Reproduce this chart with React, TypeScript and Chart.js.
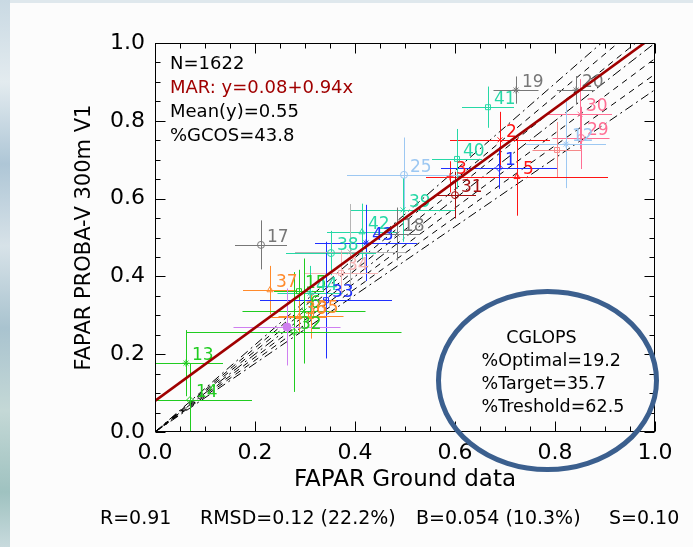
import React, { useEffect, useRef } from 'react';
import { Chart, registerables } from 'chart.js';

Chart.register(...registerables);

const FONT = '"DejaVu Sans", "Liberation Sans", sans-serif';

// ---- data ----
const siteLabels = ['19', '20', '41', '30', '29', '12', '', '2', '5', '3', '1', '40', '31', '25', '39', '18', '42', '43', '38', '34', '37', '15', '44', '33', '6', '36', '35', '32', '', '', '13', '14', '17'];
const groundFapar = [0.722, 0.842, 0.666, 0.85, 0.852, 0.822, 0.804, 0.69, 0.724, 0.59, 0.688, 0.604, 0.6, 0.498, 0.496, 0.484, 0.414, 0.422, 0.352, 0.372, 0.23, 0.288, 0.31, 0.342, 0.298, 0.288, 0.312, 0.278, 0.264, 0.39, 0.062, 0.07, 0.212];
const probaFapar = [0.879, 0.879, 0.835, 0.817, 0.756, 0.74, 0.725, 0.751, 0.656, 0.656, 0.679, 0.702, 0.609, 0.661, 0.571, 0.509, 0.514, 0.486, 0.46, 0.409, 0.365, 0.362, 0.357, 0.339, 0.311, 0.296, 0.298, 0.257, 0.27, 0.463, 0.177, 0.082, 0.481];
const groundErr = [0.045, 0.038, 0.052, 0.064, 0.057, 0.08, 0.049, 0.1, 0.182, 0.04, 0.116, 0.05, 0.042, 0.114, 0.104, 0.045, 0.07, 0.102, 0.09, 0.074, 0.054, 0.05, 0.065, 0.132, 0.123, 0.055, 0.065, 0.215, 0.107, 0.11, 0.074, 0.124, 0.052];
const probaErr = [0.035, 0.036, 0.053, 0.09, 0.08, 0.113, 0.072, 0.072, 0.1, 0.04, 0.054, 0.077, 0.06, 0.096, 0.082, 0.068, 0.073, 0.098, 0.057, 0.058, 0.062, 0.055, 0.07, 0.15, 0.135, 0.041, 0.058, 0.154, 0.099, 0.123, 0.085, 0.095, 0.063];

const marIntercept = 0.08;
const marSlope = 0.94;
const dashedLevels = [0.04, 0.08];
const dashDotLevels = [0.12];
const axisTicks = [0, 0.2, 0.4, 0.6, 0.8, 1.0];

const infoLines = ['N=1622', `MAR: y=${marIntercept.toFixed(2)}+${marSlope.toFixed(2)}x`, 'Mean(y)=0.55', '%GCOS=43.8'];
const cglopsLines = ['CGLOPS', '%Optimal=19.2', '%Target=35.7', '%Treshold=62.5'];
const statsParts = ['R=0.91', 'RMSD=0.12 (22.2%)', 'B=0.054 (10.3%)', 'S=0.10'];

// ---- styles ----
const C = {
  gray: '#777777', teal: '#26d8a6', pink: '#ff6f94', lblue: '#9dc8f2', salmon: '#f58a8a', red: '#ff1414',
  blue: '#2030ff', dred: '#a31010', lpink: '#f5b4b4', orange: '#ff8a2b', green: '#20cc20', violet: '#cf7ff0', lgray: '#b5b5b5',
};
const siteColors = [C.gray, C.gray, C.teal, C.pink, C.pink, C.lblue, C.salmon, C.red, C.red, C.red, C.blue, C.teal, C.dred, C.lblue, C.teal, C.gray, C.teal, C.blue, C.teal, C.lpink, C.orange, C.green, C.teal, C.blue, C.green, C.orange, C.orange, C.green, C.violet, C.lgray, C.green, C.green, C.gray];
const siteMarkers = ['star', 'star', 'rect', 'crossRot', 'circle', 'star', 'rect', 'crossRot', 'triangle', 'cross', 'rectRot', 'rect', 'circle', 'circle', 'crossRot', 'crossRot', 'triangle', 'star', 'circle', 'rect', 'triangle', 'rect', 'star', 'rect', 'crossRot', 'triangle', 'rect', 'rectRot', 'circle', 'crossRot', 'star', 'rectRot', 'circle'];
const infoColors = ['#000000', '#a00000', '#000000', '#000000'];

const POINT_DATASET = 1;

const overlayPlugin = {
  id: 'faparOverlay',
  beforeDraw(chart: any) {
    const { ctx, width, height } = chart;
    ctx.save();
    ctx.fillStyle = '#fcfcfc';
    ctx.fillRect(0, 0, width, height);
    const g = ctx.createLinearGradient(0, 0, 0, height);
    g.addColorStop(0, '#c9d9e3');
    g.addColorStop(0.15, '#e3ebef');
    g.addColorStop(0.3, '#aec6d6');
    g.addColorStop(0.45, '#d7e2e8');
    g.addColorStop(0.6, '#a9c3cf');
    g.addColorStop(0.75, '#c4d8d6');
    g.addColorStop(0.9, '#9fc2c0');
    g.addColorStop(1, '#c8dadd');
    ctx.fillStyle = g;
    ctx.fillRect(0, 0, 10, height);
    ctx.fillStyle = '#dfe8ed';
    ctx.fillRect(10, 0, width - 10, 3);
    ctx.restore();
  },
  beforeDatasetDraw(chart: any, args: any) {
    if (args.index !== POINT_DATASET) return;
    const { ctx, chartArea, scales } = chart;
    const xs = scales.x, ys = scales.y;
    ctx.save();
    ctx.beginPath();
    ctx.rect(chartArea.left, chartArea.top, chartArea.right - chartArea.left, chartArea.bottom - chartArea.top);
    ctx.clip();
    ctx.lineWidth = 1;
    groundFapar.forEach((gx, i) => {
      const gy = probaFapar[i];
      const px = Math.round(xs.getPixelForValue(gx)) + 0.5;
      const py = Math.round(ys.getPixelForValue(gy)) + 0.5;
      ctx.strokeStyle = siteColors[i];
      ctx.beginPath();
      ctx.moveTo(xs.getPixelForValue(gx - groundErr[i]), py);
      ctx.lineTo(xs.getPixelForValue(gx + groundErr[i]), py);
      ctx.moveTo(px, ys.getPixelForValue(gy - probaErr[i]));
      ctx.lineTo(px, ys.getPixelForValue(gy + probaErr[i]));
      ctx.stroke();
    });
    ctx.restore();
  },
  afterDatasetDraw(chart: any, args: any) {
    if (args.index !== POINT_DATASET) return;
    const { ctx } = chart;
    const meta = chart.getDatasetMeta(POINT_DATASET);
    ctx.save();
    ctx.font = `17px ${FONT}`;
    ctx.textAlign = 'left';
    ctx.textBaseline = 'alphabetic';
    meta.data.forEach((el: any, i: number) => {
      if (!siteLabels[i]) return;
      ctx.fillStyle = siteColors[i];
      ctx.fillText(siteLabels[i], el.x + 6, el.y - 3);
    });
    ctx.restore();
  },
  afterDraw(chart: any) {
    const { ctx, chartArea, scales } = chart;
    const xs = scales.x, ys = scales.y;
    const { left, right, top, bottom } = chartArea;
    ctx.save();
    ctx.strokeStyle = '#000';
    ctx.lineWidth = 1;
    const L = Math.round(left) + 0.5, R = Math.round(right) - 0.5, T = Math.round(top) + 0.5, B = Math.round(bottom) - 0.5;
    ctx.strokeRect(L, T, R - L, B - T);
    ctx.beginPath();
    for (let k = 0; k <= 20; k++) {
      const v = k * 0.05;
      const len = k % 4 === 0 ? 10 : 5;
      const px = Math.round(xs.getPixelForValue(v)) + 0.5;
      const py = Math.round(ys.getPixelForValue(v)) + 0.5;
      ctx.moveTo(px, B); ctx.lineTo(px, B - len);
      ctx.moveTo(px, T); ctx.lineTo(px, T + len);
      ctx.moveTo(L, py); ctx.lineTo(L + len, py);
      ctx.moveTo(R, py); ctx.lineTo(R - len, py);
    }
    ctx.stroke();
    ctx.font = `18px ${FONT}`;
    ctx.textAlign = 'left';
    ctx.textBaseline = 'alphabetic';
    infoLines.forEach((t, i) => {
      ctx.fillStyle = infoColors[i];
      ctx.fillText(t, left + 15, top + 26 + i * 24);
    });
    const cx = xs.getPixelForValue(0.785);
    const cy = ys.getPixelForValue(0.1324);
    const rx = xs.getPixelForValue(0.218) - xs.getPixelForValue(0);
    const ry = ys.getPixelForValue(0) - ys.getPixelForValue(0.229);
    ctx.strokeStyle = '#3b5f8e';
    ctx.lineWidth = 5;
    ctx.beginPath();
    ctx.ellipse(cx, cy, rx, ry, 0, 0, Math.PI * 2);
    ctx.stroke();
    ctx.fillStyle = '#000';
    ctx.font = `17.5px ${FONT}`;
    ctx.textAlign = 'center';
    ctx.fillText(cglopsLines[0], cx - 6, cy - 37);
    ctx.textAlign = 'left';
    for (let i = 1; i < cglopsLines.length; i++) {
      ctx.fillText(cglopsLines[i], cx - 66, cy - 37 + i * 23);
    }
    ctx.font = `19px ${FONT}`;
    const sx = [100, 200, 416, 609];
    statsParts.forEach((t, i) => ctx.fillText(t, sx[i], 524));
    ctx.restore();
  },
};

function envelopeLine(factor: number, dash: number[]) {
  return {
    data: [{ x: 0, y: 0 }, { x: 1, y: factor }],
    showLine: true,
    borderColor: '#000',
    borderWidth: 1,
    borderDash: dash,
    pointRadius: 0,
  };
}

export default function App() {
  const canvasRef = useRef<HTMLCanvasElement | null>(null);

  useEffect(() => {
    if (!canvasRef.current) return;
    const pointData = groundFapar.map((x, i) => ({ x, y: probaFapar[i] }));
    const envelope: any[] = [];
    dashedLevels.forEach((u) => {
      envelope.push(envelopeLine(1 + u, [6, 5]), envelopeLine(1 - u, [6, 5]));
    });
    dashDotLevels.forEach((u) => {
      envelope.push(envelopeLine(1 + u, [9, 4, 2, 4]), envelopeLine(1 - u, [9, 4, 2, 4]));
    });
    const chart = new Chart(canvasRef.current, {
      type: 'scatter',
      data: {
        datasets: [
          {
            data: [{ x: 0, y: marIntercept }, { x: 1, y: marIntercept + marSlope }],
            showLine: true,
            borderColor: '#a00000',
            borderWidth: 2.6,
            pointRadius: 0,
          },
          {
            data: pointData,
            pointStyle: siteMarkers as any,
            pointRadius: siteColors.map((c) => (c === C.violet ? 4 : 3.5)),
            pointBorderColor: siteColors,
            pointBackgroundColor: siteColors.map((c) => (c === C.violet ? c : 'rgba(0,0,0,0)')),
            pointBorderWidth: 1,
          },
          {
            data: [{ x: 0, y: 0 }, { x: 1, y: 1 }],
            showLine: true,
            borderColor: '#000',
            borderWidth: 1,
            borderDash: [10, 4, 2, 4],
            pointRadius: 0,
          },
          ...envelope,
        ],
      } as any,
      options: {
        responsive: false,
        animation: false,
        events: [],
        layout: { padding: { left: 0, right: 38, top: 43, bottom: 0 } },
        plugins: { legend: { display: false }, tooltip: { enabled: false } },
        scales: {
          x: {
            type: 'linear',
            min: 0,
            max: 1,
            afterBuildTicks: (s: any) => { s.ticks = axisTicks.map((v) => ({ value: v })); },
            afterFit: (s: any) => { s.height = 115; },
            grid: { display: false, drawTicks: false },
            border: { display: false },
            ticks: { padding: 8, color: '#000', font: { family: FONT, size: 22 }, maxRotation: 0, autoSkip: false, callback: (v: any) => Number(v).toFixed(1) },
            title: { display: true, text: 'FAPAR Ground data', color: '#000', font: { family: FONT, size: 23 }, padding: { top: 0, bottom: 53 } },
          },
          y: {
            type: 'linear',
            min: 0,
            max: 1,
            afterBuildTicks: (s: any) => { s.ticks = axisTicks.map((v) => ({ value: v })); },
            afterFit: (s: any) => { s.width = 155; },
            grid: { display: false, drawTicks: false },
            border: { display: false },
            ticks: { padding: 10, color: '#000', font: { family: FONT, size: 22 }, autoSkip: false, callback: (v: any) => Number(v).toFixed(1) },
            title: { display: true, text: 'FAPAR PROBA-V 300m V1', color: '#000', font: { family: FONT, size: 21 }, padding: { top: 72, bottom: 0 } },
          },
        },
      } as any,
      plugins: [overlayPlugin],
    });
    return () => chart.destroy();
  }, []);

  return (
    <div style={{ position: 'fixed', left: 0, top: 0, width: 693, height: 547 }}>
      <canvas ref={canvasRef} width={693} height={547} style={{ display: 'block', width: 693, height: 547 }} />
    </div>
  );
}
